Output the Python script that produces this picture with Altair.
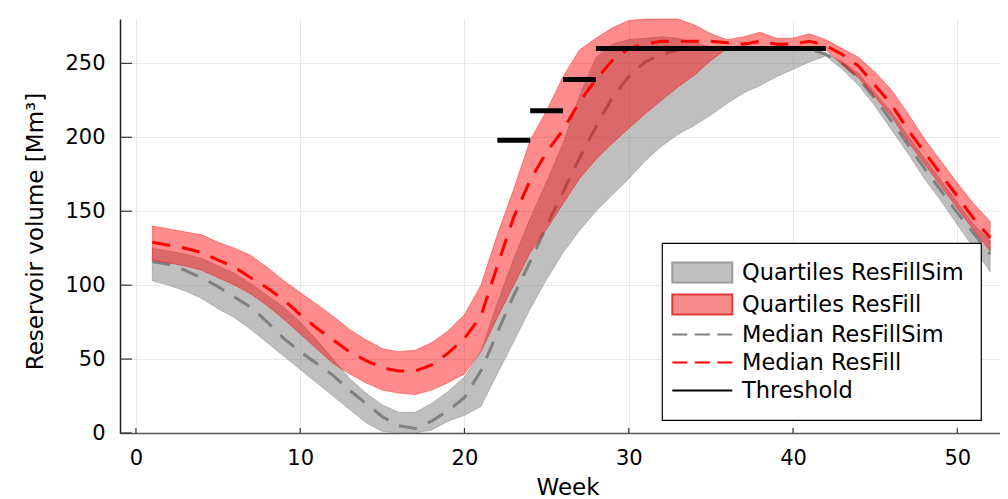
import altair as alt
import pandas as pd

# ---------------- data ----------------
weeks = list(range(1, 53))

resfill_hi = [140, 138, 136, 134, 129, 125, 120, 112, 103, 95,
              87, 79, 70, 63, 57, 55, 56, 61, 69, 80,
              100, 134, 165, 198, 218, 241, 259, 267, 274, 279,
              280, 280, 280, 276, 270, 266, 268, 271, 267, 267,
              270, 266, 260, 254, 244, 232, 216, 199, 184, 169,
              155, 143]
resfill_med = [129, 127, 125, 122, 117, 112, 105, 98, 90, 80,
               71, 63, 55, 49, 44, 42, 42, 46, 54, 64,
               79, 113, 146, 171, 190, 205, 224, 239, 252, 260,
               263, 265, 265, 265, 265, 264, 263, 265, 263, 263,
               265, 262, 256, 248, 235, 222, 205, 190, 175, 160,
               145, 132]
resfill_lo = [117, 115, 113, 110, 105, 100, 94, 86, 77, 67,
              57, 47, 40, 34, 29, 27, 26, 29, 34, 40,
              55, 78, 100, 122, 138, 155, 172, 185, 196, 206,
              216, 225, 234, 242, 252, 260, 260, 260, 260, 260,
              260, 259, 249, 240, 227, 214, 197, 182, 167, 152,
              137, 123]

sim_hi = [125, 123, 121, 118, 113, 108, 101, 93, 85, 75,
          63, 50, 37, 27, 19, 14, 14, 20, 28, 38,
          55, 88, 118, 145, 170, 196, 228, 254, 263, 266,
          267, 268, 267, 264, 261, 260, 260, 260, 260, 260,
          260, 257, 251, 243, 230, 217, 201, 186, 171, 156,
          141, 130]
sim_med = [116, 114, 110, 105, 99, 92, 85, 75, 64, 55,
           47, 39, 29, 20, 11, 5, 3, 8, 15, 24,
           42, 68, 93, 116, 140, 163, 186, 207, 227, 241,
           251, 256, 259, 260, 260, 260, 260, 260, 260, 260,
           260, 256, 250, 240, 226, 211, 195, 179, 164, 149,
           135, 121]
sim_lo = [103, 100, 96, 91, 84, 78, 70, 61, 52, 43,
          34, 25, 16, 7, 1, 0, 0, 2, 8, 12,
          18, 40, 62, 84, 104, 122, 137, 150, 161, 172,
          184, 194, 202, 208, 215, 223, 230, 235, 241, 246,
          251, 255, 246, 235, 221, 205, 189, 172, 157, 141,
          125, 109]

thr_start = [22, 24, 26, 28]
thr_end = [24, 26, 28, 42]
thr_value = [198, 218, 239, 260]

x_ticks = [0, 10, 20, 30, 40, 50]
y_ticks = [0, 50, 100, 150, 200, 250]

legend_labels = ["Quartiles ResFillSim", "Quartiles ResFill",
                 "Median ResFillSim", "Median ResFill", "Threshold"]
legend_fills = ["#c0c0c0", "#f58b8b", "transparent", "transparent", "transparent"]
legend_strokes = ["#9a9a9a", "#e23a3a", "#808080", "#ff0000", "#000000"]
RECT = "M-1.6,-0.84L3.4,-0.84L3.4,0.84L-1.6,0.84Z"
DASH = ("M-1.6,0L-0.35,0M0.275,0L1.525,0M2.15,0L3.4,0"
        " M-1.6,-0.75 M-1.6,0.75")
LINE = "M-1.6,0L3.4,0 M-1.6,-0.75 M-1.6,0.75"
legend_shapes = [RECT, RECT, DASH, DASH, LINE]

# ---------------- tables ----------------
df = pd.DataFrame({
    "week": weeks,
    "ru": resfill_hi, "rm": resfill_med, "rl": resfill_lo,
    "gu": sim_hi, "gm": sim_med, "gl": sim_lo,
})
thr = pd.DataFrame({"start": thr_start, "end": thr_end, "val": thr_value})
xt = pd.DataFrame({"t": x_ticks})
yt = pd.DataFrame({"t": y_ticks})
leg = pd.DataFrame({"label": legend_labels})

FONT = "DejaVu Sans"
W, H = 880, 414

xscale = alt.Scale(domain=[-0.97, 52.6], nice=False, zero=False)
yscale = alt.Scale(domain=[0, 280], nice=False, zero=False)

xaxis = alt.Axis(values=x_ticks, title="Week", grid=True, ticks=False, tickSize=0,
                 labelPadding=14, labelFontSize=21, titleFontSize=23,
                 titleX=447.5, titleY=61, titleBaseline="alphabetic", titleAlign="center",
                 domainColor="#555555", domainWidth=1.5)
yaxis = alt.Axis(values=y_ticks, title="Reservoir volume [Mm³]", grid=True, ticks=False,
                 tickSize=0, labelPadding=15, labelFontSize=21, titleFontSize=23,
                 titleX=-85, titleY=212, titleAngle=270, titleAlign="center",
                 titleBaseline="middle", domainColor="#222222", domainWidth=1.5)


def X(f):
    return alt.X(f, scale=xscale, axis=xaxis)


def Y(f):
    return alt.Y(f, scale=yscale, axis=yaxis)


gray_band = alt.Chart(df).mark_area(
    fill="#808080", fillOpacity=0.5, stroke="#808080", strokeOpacity=0.45, strokeWidth=1
).encode(x=X("week:Q"), y=Y("gl:Q"), y2="gu:Q")

gray_med = alt.Chart(df).mark_line(
    color="#808080", strokeWidth=3, strokeDash=[18, 12]
).encode(x=X("week:Q"), y=Y("gm:Q"))

red_band = alt.Chart(df).mark_area(
    fill="#ff0000", fillOpacity=0.45, stroke="#ff0000", strokeOpacity=0.4, strokeWidth=1
).encode(x=X("week:Q"), y=Y("rl:Q"), y2="ru:Q")

red_med = alt.Chart(df).mark_line(
    color="#ff0000", strokeWidth=3, strokeDash=[18, 12]
).encode(x=X("week:Q"), y=Y("rm:Q"))

thresholds = alt.Chart(thr).mark_rule(color="black", strokeWidth=5).encode(
    x=X("start:Q"), x2="end:Q", y=Y("val:Q"))

xticks = alt.Chart(xt).mark_rule(color="#333333", strokeWidth=1.2).encode(
    x=X("t:Q"), y=alt.value(H), y2=alt.value(H - 5))
yticks = alt.Chart(yt).mark_rule(color="#333333", strokeWidth=1.2).encode(
    y=Y("t:Q"), x=alt.value(0), x2=alt.value(12))

common_leg = dict(title=None, orient="none", legendX=542, legendY=224)
legend_layer = alt.Chart(leg).mark_point(filled=True, opacity=0).encode(
    fill=alt.Fill("label:N", scale=alt.Scale(domain=legend_labels, range=legend_fills),
                  legend=alt.Legend(**common_leg)),
    stroke=alt.Stroke("label:N", scale=alt.Scale(domain=legend_labels, range=legend_strokes),
                      legend=alt.Legend(**common_leg)),
    shape=alt.Shape("label:N", scale=alt.Scale(domain=legend_labels, range=legend_shapes),
                    legend=alt.Legend(**common_leg)),
)

chart = alt.layer(
    gray_band, gray_med, red_band, red_med, thresholds, xticks, yticks, legend_layer
).properties(
    width=W, height=H,
    padding={"left": 112, "top": 11, "right": 0, "bottom": 66},
    autosize=alt.AutoSizeParams(type="none"),
    background="white",
).configure_view(stroke=None).configure_axis(
    gridColor="#e8e8e8", gridWidth=1,
    labelFont=FONT, titleFont=FONT, labelColor="#000000", titleColor="#000000",
    titleFontWeight="normal",
).configure_legend(
    padding=16.5, fillColor="white", strokeColor="#000000", strokeWidth=1.2,
    symbolSize=576, symbolStrokeWidth=2, symbolOpacity=1,
    symbolFillColor="white", symbolStrokeColor="black",
    labelOffset=37.5, labelFont=FONT, labelFontSize=22.5, labelColor="#000000",
    labelLimit=600, rowPadding=2, symbolOffset=0,
)

chart.save("out.html", embed_options={"renderer": "svg", "actions": False})
